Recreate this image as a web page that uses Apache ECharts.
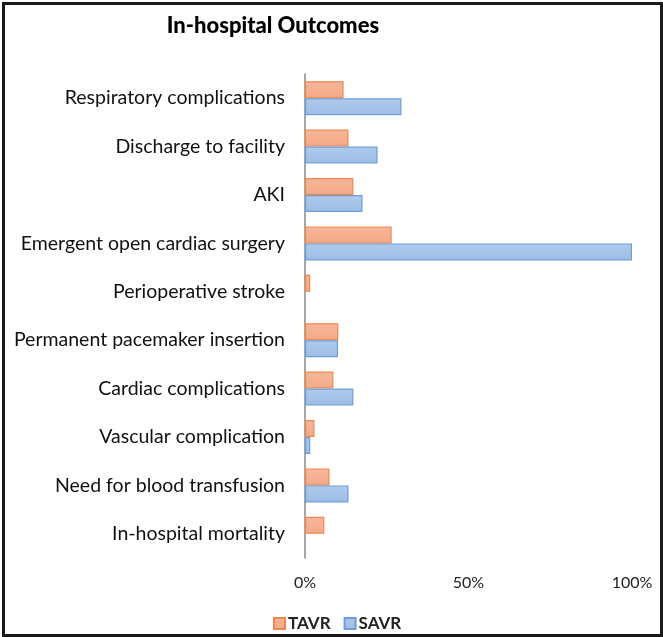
<!DOCTYPE html>
<html>
<head>
<meta charset="utf-8">
<script src="https://cdn.jsdelivr.net/npm/echarts@6/dist/echarts.min.js"></script>
<style>
html,body{margin:0;padding:0;background:#fff;}
#chart{width:663px;height:637px;}
</style>
</head>
<body>
<div id="chart"></div>
<script>
const categories = [
  "Respiratory complications",
  "Discharge to facility",
  "AKI",
  "Emergent open cardiac surgery",
  "Perioperative stroke",
  "Permanent pacemaker insertion",
  "Cardiac complications",
  "Vascular complication",
  "Need for blood transfusion",
  "In-hospital mortality"
];
const tavr = [11.8, 13.3, 14.8, 26.5, 1.6, 10.2, 8.7, 2.9, 7.5, 5.9];
const savr = [29.5, 22.2, 17.6, 100, 0, 10.1, 14.8, 1.6, 13.3, 0];
const xTicks = [0, 50, 100];

const chart = echarts.init(document.getElementById('chart'), null, {renderer: 'canvas'});
const font = 'Lato, "Open Sans", sans-serif';
const hideZero = arr => arr.map(v => v === 0 ? '-' : v);
chart.setOption({
  animation: false,
  backgroundColor: '#fff',
  title: {
    text: 'In-hospital Outcomes',
    left: 268, top: 10, textAlign: 'center',
    textStyle: {fontFamily: font, fontWeight: 900, fontSize: 22, color: '#000'}
  },
  graphic: [{
    type: 'rect', left: 1, top: 1,
    shape: {width: 658, height: 632},
    style: {fill: 'none', stroke: '#1a1a1a', lineWidth: 3}
  }],
  legend: {
    data: ['TAVR', 'SAVR'],
    left: 268, top: 610,
    itemWidth: 11, itemHeight: 11, itemGap: 13,
    icon: 'rect',
    textStyle: {fontFamily: font, fontWeight: 'bold', fontSize: 17, color: '#222', padding: [0,0,0,-2]}
  },
  grid: {left: 305, right: 31, top: 74, bottom: 79, containLabel: false},
  xAxis: {
    type: 'value', min: 0, max: 100, interval: 50,
    axisLine: {show: false}, axisTick: {show: false}, splitLine: {show: false},
    axisLabel: {
      formatter: v => xTicks.includes(v) ? v + '%' : '',
      fontFamily: font, fontSize: 16, color: '#222', margin: 17
    }
  },
  yAxis: {
    type: 'category', data: categories, inverse: true,
    axisLine: {lineStyle: {color: '#888', width: 1.5}},
    axisTick: {show: false},
    axisLabel: {fontFamily: font, fontSize: 19.5, color: '#111', margin: 20}
  },
  series: [
    {
      name: 'TAVR', type: 'bar', data: hideZero(tavr), barWidth: 17, barGap: '0%',
      itemStyle: {
        color: new echarts.graphic.LinearGradient(0,0,0,1,[{offset:0,color:'#F7B79A'},{offset:1,color:'#F4A987'}]),
        borderColor: '#EE8750', borderWidth: 1.2
      }
    },
    {
      name: 'SAVR', type: 'bar', data: hideZero(savr), barWidth: 17,
      itemStyle: {
        color: new echarts.graphic.LinearGradient(0,0,0,1,[{offset:0,color:'#AFCBEE'},{offset:1,color:'#9BBDE6'}]),
        borderColor: '#6F9DD3', borderWidth: 1.2
      }
    }
  ]
});
</script>
</body>
</html>
